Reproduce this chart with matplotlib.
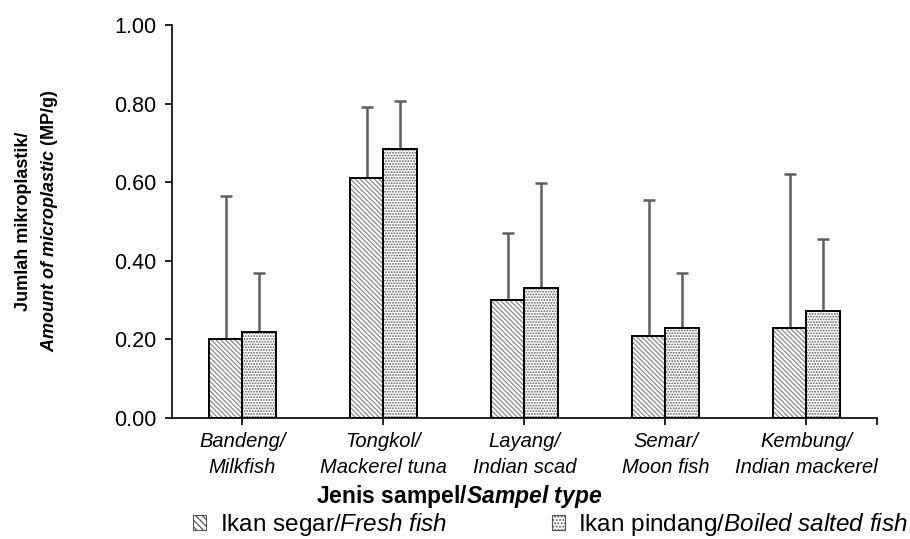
import numpy as np
import matplotlib as mpl
mpl.use('Agg')
import matplotlib.pyplot as plt
from matplotlib.patches import Patch

# Data
categories = ['Bandeng/\nMilkfish', 'Tongkol/\nMackerel tuna', 'Layang/\nIndian scad',
              'Semar/\nMoon fish', 'Kembung/\nIndian mackerel']
fresh = [0.200, 0.611, 0.300, 0.209, 0.228]
fresh_err = [0.364, 0.181, 0.171, 0.346, 0.394]
boiled = [0.218, 0.684, 0.332, 0.230, 0.272]
boiled_err = [0.150, 0.123, 0.266, 0.138, 0.183]
yticks = [0.0, 0.2, 0.4, 0.6, 0.8, 1.0]

# General plot parameters
mpl.rcParams['font.family'] = 'Liberation Sans'
mpl.rcParams['mathtext.fontset'] = 'custom'
mpl.rcParams['mathtext.rm'] = 'Liberation Sans'
mpl.rcParams['mathtext.it'] = 'Liberation Sans:italic'
mpl.rcParams['mathtext.bf'] = 'Liberation Sans:bold'
mpl.rcParams['mathtext.bfit'] = 'Liberation Sans:bold:italic'
mpl.rcParams['hatch.linewidth'] = 0.9

fig = plt.figure(figsize=(9.1, 5.39), dpi=100)
ax = fig.add_axes([0.189, 0.2245, 0.7747, 0.729])

x = np.arange(len(categories))
w = 0.24
err_color = '#5f5f5f'
hatch_fresh = '\\' * 7
hatch_boiled = '.' * 6

# Hatched fill first (hatch colour comes from edgecolor), then black outlines
ax.bar(x - w / 2, fresh, w, color='white', edgecolor='#8a8a8a', hatch=hatch_fresh, linewidth=0, zorder=2)
ax.bar(x + w / 2, boiled, w, color='white', edgecolor='#606060', hatch=hatch_boiled, linewidth=0, zorder=2)
ax.bar(x - w / 2, fresh, w, fill=False, edgecolor='black', linewidth=1.4, zorder=3)
ax.bar(x + w / 2, boiled, w, fill=False, edgecolor='black', linewidth=1.4, zorder=3)

# Upper error bars only
ax.errorbar(x - w / 2, fresh, yerr=[np.zeros(len(fresh)), fresh_err], fmt='none',
            ecolor=err_color, elinewidth=1.8, capsize=4.5, capthick=1.8, zorder=1)
ax.errorbar(x + w / 2, boiled, yerr=[np.zeros(len(boiled)), boiled_err], fmt='none',
            ecolor=err_color, elinewidth=1.8, capsize=4.5, capthick=1.8, zorder=1)

ax.set_xlim(-0.5, len(categories) - 0.5)
ax.set_ylim(0, 1.0)
ax.set_yticks(yticks)
ax.set_yticklabels(['%.2f' % v for v in yticks], fontsize=15.5)
ax.set_xticks(list(x) + [len(categories) - 0.5])
ax.set_xticklabels(categories + [''], fontsize=14.5, style='italic', linespacing=1.5)
ax.tick_params(axis='both', direction='out', length=5, width=1.2, color='black')
ax.tick_params(axis='x', pad=5)
ax.tick_params(axis='y', pad=6)
ax.spines['top'].set_visible(False)
ax.spines['right'].set_visible(False)
ax.spines['left'].set_linewidth(1.2)
ax.spines['bottom'].set_linewidth(1.2)

# Axis titles with mixed italic parts
fig.text(0.505, 0.079, r'Jenis sampel/$\mathbfit{Sampel\ type}$', ha='center', va='center',
         fontsize=16.5, fontweight='bold')
fig.text(0.041, 0.59, 'Jumlah mikroplastik/\n' + r'$\mathbfit{Amount\ of\ microplastic}$ (MP/g)',
         rotation=90, ha='center', va='center', fontsize=13, fontweight='bold',
         linespacing=1.5, multialignment='center')

# Legend
handles = [Patch(facecolor='white', edgecolor='#555555', hatch='\\' * 5, linewidth=0.8),
           Patch(facecolor='white', edgecolor='#555555', hatch='.' * 5, linewidth=0.8)]
labels = [r'Ikan segar/$\mathit{Fresh\ fish}$', r'Ikan pindang/$\mathit{Boiled\ salted\ fish}$']
fig.legend(handles, labels, loc='center', bbox_to_anchor=(0.605, 0.027), ncol=2, frameon=False,
           fontsize=17.5, handlelength=0.55, handleheight=0.55, handletextpad=0.55, columnspacing=4.3)

fig.savefig('out.png', dpi=100)
